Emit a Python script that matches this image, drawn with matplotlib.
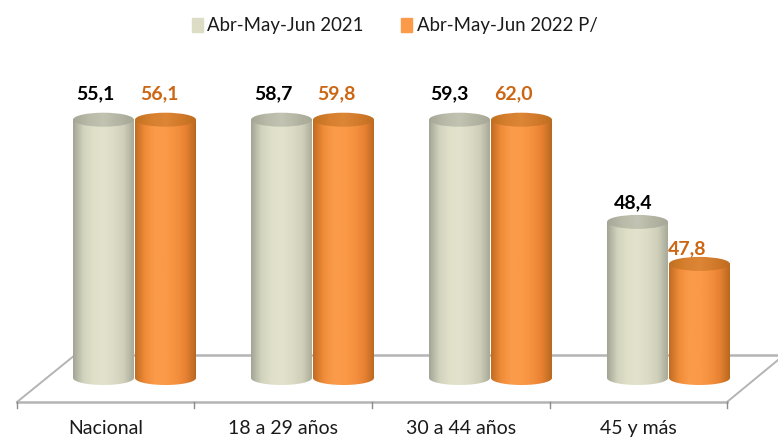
import numpy as np
import matplotlib
matplotlib.use('Agg')
import matplotlib.pyplot as plt
from matplotlib.colors import LinearSegmentedColormap
from matplotlib.patches import Patch, Polygon, Ellipse

categories = ['Nacional', '18 a 29 años', '30 a 44 años', '45 y más']
series_2021 = [55.1, 58.7, 59.3, 48.4]
series_2022 = [56.1, 59.8, 62.0, 47.8]
labels_2021 = ['55,1', '58,7', '59,3', '48,4']
labels_2022 = ['56,1', '59,8', '62,0', '47,8']
legend_labels = ['Abr-May-Jun 2021', 'Abr-May-Jun 2022 P/']

# the original value axis is cut off at both ends, taller bars just hit the top
y_min = 46.17
y_max = 49.86

W, H = 778, 438
PX_X = 178.0   # pixels per category
PX_Y = 70.0    # pixels per value unit
X0 = 134.0     # pixel of the first category
Y0 = 378.0     # pixel of y_min

plt.rcParams['font.family'] = ['Lato', 'DejaVu Sans']


def px_x(p):
    return (p - X0) / PX_X


def px_y(p):
    return y_min + (Y0 - p) / PX_Y


fig = plt.figure(figsize=(W / 100, H / 100), dpi=100)
ax = fig.add_axes([0, 0, 1, 1])

beige_body = LinearSegmentedColormap.from_list('b', ['#a3a495', '#d2d3bd', '#e0e0c9', '#e3e3cd', '#dcdcc6', '#d0d0ba', '#a8a999'])
beige_top = LinearSegmentedColormap.from_list('bt', ['#a5a696', '#b9baa8', '#c2c3b2', '#b4b5a3', '#a5a696'])
orange_body = LinearSegmentedColormap.from_list('o', ['#c06c22', '#f08c38', '#fb9c4b', '#fb9a48', '#f59240', '#e88232', '#b9681f'])
orange_top = LinearSegmentedColormap.from_list('ot', ['#c0701f', '#d67f2e', '#dc8636', '#d27a2b', '#bf6d20'])

grad = np.linspace(0, 1, 128).reshape(1, -1)
bar_w = 61 / PX_X
ell_h = 14 / PX_Y


def cylinder(xc, value, cmap_body, cmap_top, z):
    top = min(value, y_max)
    left, right = xc - bar_w / 2, xc + bar_w / 2
    t = np.linspace(np.pi, 2 * np.pi, 40)
    arc = np.column_stack([xc + bar_w / 2 * np.cos(t), y_min + ell_h / 2 * np.sin(t)])
    outline = np.vstack([[[left, top]], arc, [[right, top]]])
    body = ax.imshow(grad, cmap=cmap_body, aspect='auto', zorder=z,
                     extent=(left, right, y_min - ell_h, top))
    body.set_clip_path(Polygon(outline, transform=ax.transData))
    cap = ax.imshow(grad, cmap=cmap_top, aspect='auto', zorder=z + 0.1,
                    extent=(left, right, top - ell_h, top + ell_h))
    cap.set_clip_path(Ellipse((xc, top), bar_w, ell_h, transform=ax.transData))


# floor of the 3d chart
floor = '#b4b4b4'
lw = 1.8
ax.plot([px_x(17), px_x(727)], [px_y(402), px_y(402)], color=floor, lw=lw, zorder=1)
ax.plot([px_x(17), px_x(75)], [px_y(402), px_y(355)], color=floor, lw=1.4, zorder=1)
ax.plot([px_x(75), px_x(778)], [px_y(355), px_y(355)], color=floor, lw=lw, zorder=1)
ax.plot([px_x(727), px_x(778)], [px_y(402), px_y(360)], color=floor, lw=1.4, zorder=1)
for i in range(len(categories) + 1):
    tx = px_x(17 + i * 177.5)
    ax.plot([tx, tx], [px_y(402), px_y(408)], color='#8c8c8c', lw=1, zorder=1)

x = np.arange(len(categories))
for i in x:
    cylinder(i - 30.5 / PX_X, series_2021[i], beige_body, beige_top, 3)
    cylinder(i + 31.5 / PX_X, series_2022[i], orange_body, orange_top, 4)

# value labels sit a bit left of each bar, offsets in points
off_2021 = [(-6, 13.5), (-6, 13.5), (-7, 13.5), (-3, 9)]
off_2022 = [(-4, 13.5), (-5, 13.5), (-6, 13.5), (-9, 6)]
for i in x:
    ax.annotate(labels_2021[i], (i - 30.5 / PX_X, min(series_2021[i], y_max) + ell_h / 2),
                xytext=off_2021[i], textcoords='offset points', ha='center', va='center',
                fontsize=14, fontweight='bold', color='black', zorder=6)
    ax.annotate(labels_2022[i], (i + 31.5 / PX_X, min(series_2022[i], y_max) + ell_h / 2),
                xytext=off_2022[i], textcoords='offset points', ha='center', va='center',
                fontsize=14, fontweight='bold', color='#cc6612', zorder=6)
    ax.text(px_x(106 + i * 177.5), px_y(428), categories[i], ha='center', va='center',
            fontsize=14, color='#1a1a1a')

handles = [Patch(color='#dddcc5'), Patch(color='#fb9a48')]
ax.legend(handles, legend_labels, ncols=2, frameon=False, fontsize=13.4,
          loc='center', bbox_to_anchor=(0.507, 0.941),
          handlelength=0.62, handleheight=0.8, handletextpad=0.22, columnspacing=2.0,
          labelcolor='#1a1a1a')

ax.set_xlim(px_x(0), px_x(W))
ax.set_ylim(px_y(H), px_y(0))
ax.axis('off')

fig.savefig('out.png', dpi=100)
